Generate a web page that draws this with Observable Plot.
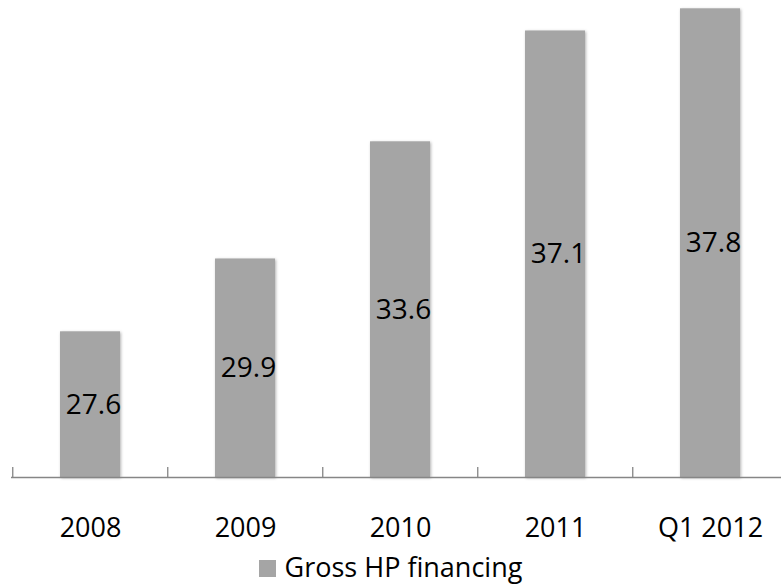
<!DOCTYPE html>
<html><head><meta charset="utf-8">
<script src="https://cdn.jsdelivr.net/npm/d3@7"></script>
<script src="https://cdn.jsdelivr.net/npm/@observablehq/plot@0.6"></script>
<style>
body{margin:0;background:#fff;font-family:"Open Sans",sans-serif;width:781px;height:585px;overflow:hidden;}
#legend{display:flex;justify-content:center;align-items:center;height:37px;font-size:27px;color:#000;}
#legend .sw{width:17px;height:17px;background:#a5a5a5;margin-right:9px;margin-top:4px;}
</style>
</head><body><div id="chart"></div>
<script>
const categories = ["2008", "2009", "2010", "2011", "Q1 2012"];
const values = [27.6, 29.9, 33.6, 37.1, 37.8];
const seriesName = "Gross HP financing";
const yDomain = [23, 38];

const data = categories.map((c, i) => ({category: c, value: values[i]}));
const W = 781, H = 548, mL = 11, mR = -7.5;
const step = (W - mL - mR) / categories.length;

const plot = Plot.plot({
  width: W, height: H,
  marginLeft: mL, marginRight: mR, marginTop: 2, marginBottom: H - 477,
  style: {fontFamily: "Open Sans", fontSize: "27px", background: "#fff", color: "#000", overflow: "visible"},
  x: {domain: categories, paddingInner: 0.61, paddingOuter: 0.305, label: null},
  y: {domain: yDomain, axis: null},
  marks: [
    Plot.barY(data, {x: "category", y1: yDomain[0], y2: "value", fill: "#a5a5a5",
      style: "filter: drop-shadow(1px 1px 1.5px rgba(0,0,0,0.3))"}),
    Plot.ruleY([yDomain[0]], {stroke: "#868686", strokeWidth: 1.3}),
    Plot.axisX({tickSize: -10, text: null, dx: -step / 2, stroke: "#868686", strokeWidth: 1.3}),
    Plot.axisX({tickSize: 0, tickPadding: 40, fontSize: 27, fill: "#000", label: null}),
    Plot.text(data, {x: "category", y: d => (yDomain[0] + d.value) / 2, text: d => d.value.toFixed(1), fontSize: 28, fill: "#000", dx: 3})
  ]
});
plot.querySelectorAll("g[aria-label='bar']").forEach(g => g.setAttribute("filter", "drop-shadow(1px 1px 1.5px rgba(0,0,0,0.3))"));
document.getElementById("chart").append(plot);
const lg = document.createElement("div");
lg.id = "legend";
lg.innerHTML = `<div class="sw"></div><span>${seriesName}</span>`;
document.body.append(lg);
</script>
</body></html>
